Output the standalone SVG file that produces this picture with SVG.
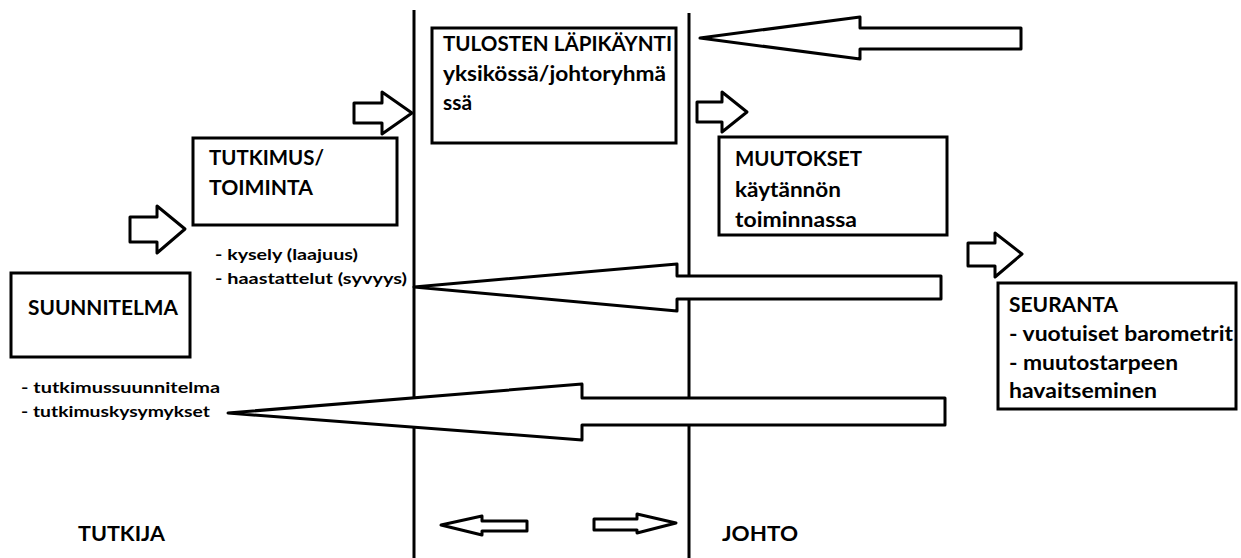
<svg xmlns="http://www.w3.org/2000/svg" width="1241" height="558" viewBox="0 0 1241 558">
<style>
.bg{fill:#fff}
.box{fill:#fff;stroke:#000;stroke-width:3}
.arr{fill:#fff;stroke:#000;stroke-width:3;stroke-linejoin:round}
.ln{stroke:#000;stroke-width:3;fill:none}
.t{font-family:Lato,"Noto Sans",sans-serif;font-weight:bold;font-size:20px;fill:#000}
.s{font-family:Lato,"Noto Sans",sans-serif;font-weight:bold;font-size:16px;fill:#000}
</style>
<rect class="bg" x="0" y="0" width="1241" height="558"/>
<g id="connectors">
<line class="ln" x1="414" y1="10" x2="414" y2="558"/>
<line class="ln" x1="689" y1="13" x2="689" y2="558"/>
<polygon class="arr" points="700,38 860,17 860,28 1021,28 1021,49 860,49 860,59"/>
<polygon class="arr" points="414,287 677,264 677,276 941,276 941,299 677,299 677,311"/>
<polygon class="arr" points="228,413 582,384 582,398 945,398 945,425 582,425 582,440"/>
<polygon class="arr" points="130,217 157,217 157,206 185,229 157,253 157,242 130,242"/>
<polygon class="arr" points="354,103 382,103 382,92 412,113 382,134 382,123 354,123"/>
<polygon class="arr" points="697,102 722,102 722,92 747,112 722,132 722,122 697,122"/>
<polygon class="arr" points="968,243 995,243 995,233 1022,254 995,277 995,266 968,266"/>
<polygon class="arr" points="441,525 482,516 482,521 527,521 527,531 482,531 482,535"/>
<polygon class="arr" points="594,519 637,519 637,514 676,523 637,533 637,530 594,530"/>
</g>
<g id="suunnitelma">
<rect class="box" x="11" y="273" width="179" height="84"/>
<text class="t" x="28" y="315" textLength="150" lengthAdjust="spacingAndGlyphs">SUUNNITELMA</text>
</g>
<g id="suunnitelma-notes">
<text class="s" x="21" y="393" textLength="199" lengthAdjust="spacingAndGlyphs">- tutkimussuunnitelma</text>
<text class="s" x="21" y="417" textLength="189" lengthAdjust="spacingAndGlyphs">- tutkimuskysymykset</text>
</g>
<g id="tutkimus">
<rect class="box" x="193" y="138" width="204" height="87"/>
<text class="t" x="209" y="165" textLength="115" lengthAdjust="spacingAndGlyphs">TUTKIMUS/</text>
<text class="t" x="209" y="195" textLength="104" lengthAdjust="spacingAndGlyphs">TOIMINTA</text>
</g>
<g id="tutkimus-notes">
<text class="s" x="215" y="260" textLength="143" lengthAdjust="spacingAndGlyphs">- kysely (laajuus)</text>
<text class="s" x="215" y="284" textLength="192" lengthAdjust="spacingAndGlyphs">- haastattelut (syvyys)</text>
</g>
<g id="tulosten">
<rect class="box" x="432" y="28" width="244" height="115"/>
<text class="t" x="443" y="51" textLength="229" lengthAdjust="spacingAndGlyphs">TULOSTEN LÄPIKÄYNTI</text>
<text class="t" x="443" y="81" textLength="223" lengthAdjust="spacingAndGlyphs">yksikössä/johtoryhmä</text>
<text class="t" x="443" y="110" textLength="29" lengthAdjust="spacingAndGlyphs">ssä</text>
</g>
<g id="muutokset">
<rect class="box" x="719" y="137" width="228" height="98"/>
<text class="t" x="735" y="166" textLength="127" lengthAdjust="spacingAndGlyphs">MUUTOKSET</text>
<text class="t" x="735" y="197" textLength="106" lengthAdjust="spacingAndGlyphs">käytännön</text>
<text class="t" x="735" y="227" textLength="122" lengthAdjust="spacingAndGlyphs">toiminnassa</text>
</g>
<g id="seuranta">
<rect class="box" x="998" y="283" width="238" height="126"/>
<text class="t" x="1009" y="312" textLength="109" lengthAdjust="spacingAndGlyphs">SEURANTA</text>
<text class="t" x="1009" y="341" textLength="224" lengthAdjust="spacingAndGlyphs">- vuotuiset barometrit</text>
<text class="t" x="1009" y="370" textLength="169" lengthAdjust="spacingAndGlyphs">- muutostarpeen</text>
<text class="t" x="1009" y="398" textLength="148" lengthAdjust="spacingAndGlyphs">havaitseminen</text>
</g>
<g id="tutkija">
<text class="t" x="78" y="541" textLength="87" lengthAdjust="spacingAndGlyphs">TUTKIJA</text>
</g>
<g id="johto">
<text class="t" x="722" y="541" textLength="76" lengthAdjust="spacingAndGlyphs">JOHTO</text>
</g>
</svg>
